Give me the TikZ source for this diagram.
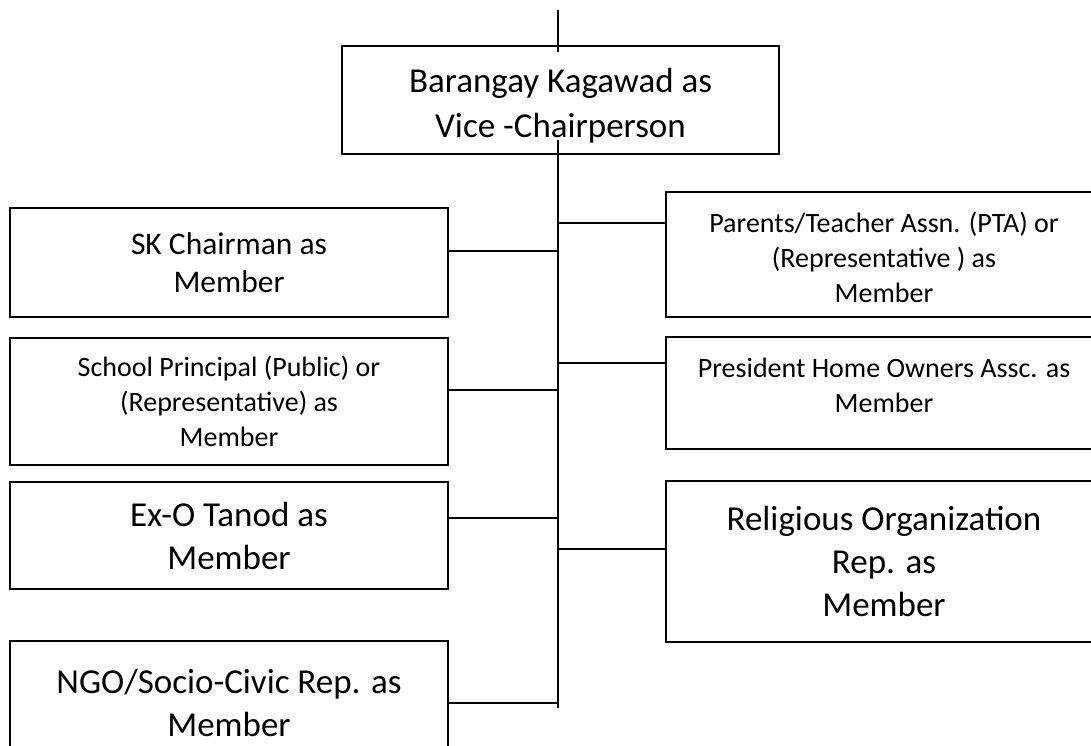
\documentclass[tikz,border=0pt]{standalone}
\usepackage{fontspec}
\setmainfont{Carlito}
\begin{document}
\begin{tikzpicture}[x=1pt,y=-1pt,
  box/.style={draw, line width=2.8pt, rectangle, inner sep=0pt, align=center},
  txt/.style={inner sep=0pt, align=center},
  conn/.style={line width=2.8pt},
  big/.style={font=\fontsize{35}{43}\selectfont},
  mid/.style={font=\fontsize{31.5}{38.5}\selectfont},
  small/.style={font=\fontsize{28}{35}\selectfont}]
\useasboundingbox (0,0) rectangle (1091,746);
\clip (0,0) rectangle (1091,746);
% boxes
\node[box,minimum width=437pt,minimum height=108pt] (vc) at (560.5,100) {};
\node[txt,font=\fontsize{35}{45}\selectfont] (vct) at (560.5,106) {Barangay Kagawad as\\Vice -Chairperson};
\node[box,mid,minimum width=438pt,minimum height=109pt] (sk) at (229,262.5) {SK Chairman as\\Member};
\node[box,small,minimum width=438pt,minimum height=127pt] (sp) at (229,401.5) {School Principal (Public) or\\(Representative) as\\Member};
\node[box,big,minimum width=438pt,minimum height=107pt] (ex) at (229,535.5) {Ex-O Tanod as\\Member};
\node[box,big,minimum width=438pt,minimum height=124pt] (ngo) at (229,703) {NGO/Socio-Civic Rep. as\\Member};
\node[box,minimum width=436pt,minimum height=125pt] (pta) at (884,254.5) {};
\node[txt,small] (ptat) at (884,257) {Parents/Teacher Assn. (PTA) or\\(Representative ) as\\Member};
\node[box,minimum width=436pt,minimum height=112pt] (ho) at (884,393) {};
\node[txt,small] (hot) at (884,385) {President Home Owners Assc. as\\Member};
\node[box,big,minimum width=436pt,minimum height=161pt] (rel) at (884,561.5) {Religious Organization\\Rep. as\\Member};
% trunk
\coordinate (top) at (558,10);
\coordinate (topin) at (558,52);
\coordinate (ttop) at (558,140);
\coordinate (tbot) at (558,708);
\coordinate (j1) at (558,251);
\coordinate (j2) at (558,390);
\coordinate (j3) at (558,518);
\coordinate (j4) at (558,703);
\coordinate (k1) at (558,223);
\coordinate (k2) at (558,363);
\coordinate (k3) at (558,549);
\draw[conn] (top) -- (topin);
\draw[conn] (ttop) -- (tbot);
\draw[conn] (j1 -| sk.east) -- (j1);
\draw[conn] (j2 -| sp.east) -- (j2);
\draw[conn] (j3 -| ex.east) -- (j3);
\draw[conn] (j4 -| ngo.east) -- (j4);
\draw[conn] (k1) -- (k1 -| pta.west);
\draw[conn] (k2) -- (k2 -| ho.west);
\draw[conn] (k3) -- (k3 -| rel.west);
\end{tikzpicture}
\end{document}
